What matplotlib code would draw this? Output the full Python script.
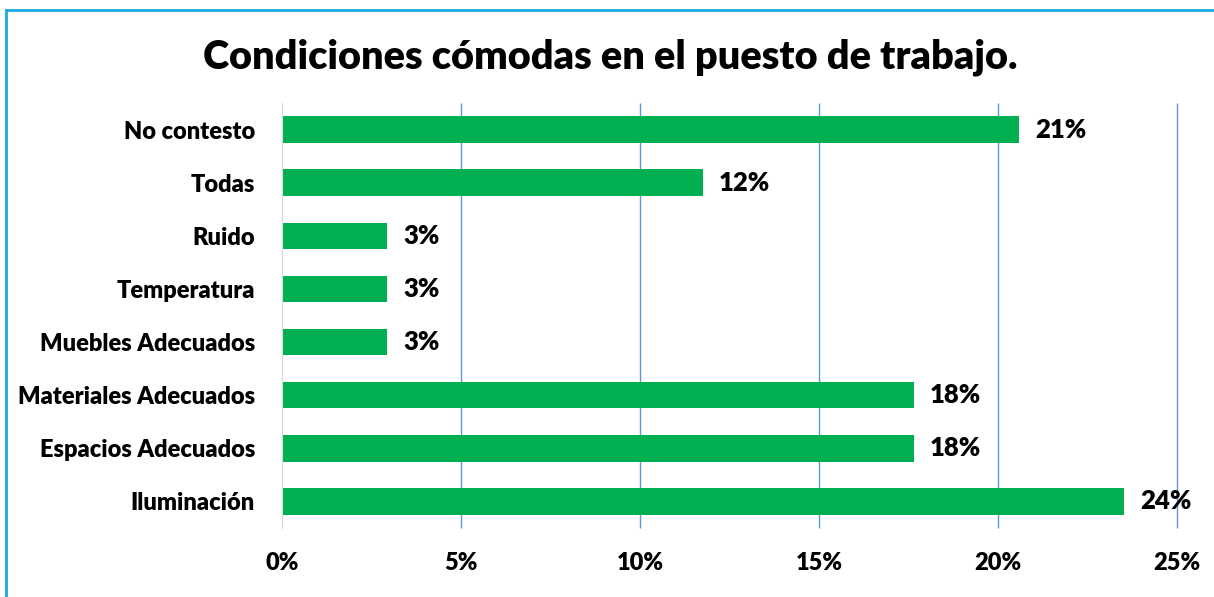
import matplotlib
matplotlib.use("Agg")
from matplotlib import pyplot as plt
from matplotlib.lines import Line2D
import numpy as np

plt.rcParams['font.family'] = ['Lato', 'DejaVu Sans']
plt.rcParams['font.weight'] = 'heavy'

# data (top to bottom as shown)
categories = ['No contesto', 'Todas', 'Ruido', 'Temperatura', 'Muebles Adecuados',
              'Materiales Adecuados', 'Espacios Adecuados', 'Iluminación']
values = [20.59, 11.76, 2.94, 2.94, 2.94, 17.65, 17.65, 23.53]
labels = ['21%', '12%', '3%', '3%', '3%', '18%', '18%', '24%']
xticks = [0, 5, 10, 15, 20, 25]
xticklabels = ['0%', '5%', '10%', '15%', '20%', '25%']

BAR_GREEN = '#00B050'
GRID_BLUE = '#5B9BD5'
W = 'heavy'

fig = plt.figure(figsize=(12.14, 5.97), dpi=100)
ax = fig.add_axes([0.2323, 0.1156, 0.7372, 0.7119])

pos = np.arange(len(categories))
ax.barh(pos, values, height=0.5, color=BAR_GREEN, zorder=3)
for p, v, lab in zip(pos, values, labels):
    ax.text(v + 0.45, p, lab, va='center', ha='left', fontsize=18.5, fontweight=W)

ax.set_ylim(len(categories) - 0.5, -0.5)
ax.set_xlim(0, 25)
ax.set_yticks(pos)
ax.set_yticklabels(categories, fontsize=17, fontweight=W)
ax.set_xticks(xticks)
ax.set_xticklabels(xticklabels, fontsize=17, fontweight=W)
ax.tick_params(axis='y', length=0, pad=19.5)
ax.tick_params(axis='x', length=0, pad=17.5)

# vertical gridlines, not clipped so the 25% line shows fully
ax.vlines(xticks[1:], len(categories) - 0.5, -0.5, color=GRID_BLUE, lw=1.0,
          zorder=0, clip_on=False)
for s in ['top', 'right', 'bottom']:
    ax.spines[s].set_visible(False)
ax.spines['left'].set_color('#D9D9D9')
ax.spines['left'].set_zorder(4)

fig.text(0.503, 1 - 57 / 597, 'Condiciones cómodas en el puesto de trabajo.',
         ha='center', va='center', fontsize=28.5, fontweight=W)

# blue frame (left and top edges visible)
fig.add_artist(Line2D([5.5 / 1214, 5.5 / 1214], [0, 1 - 9.5 / 597],
                      color='#1BA9E1', lw=2, transform=fig.transFigure))
fig.add_artist(Line2D([5.5 / 1214, 1], [1 - 9.5 / 597, 1 - 9.5 / 597],
                      color='#1BA9E1', lw=2, transform=fig.transFigure))

fig.savefig('out.png', dpi=100)
